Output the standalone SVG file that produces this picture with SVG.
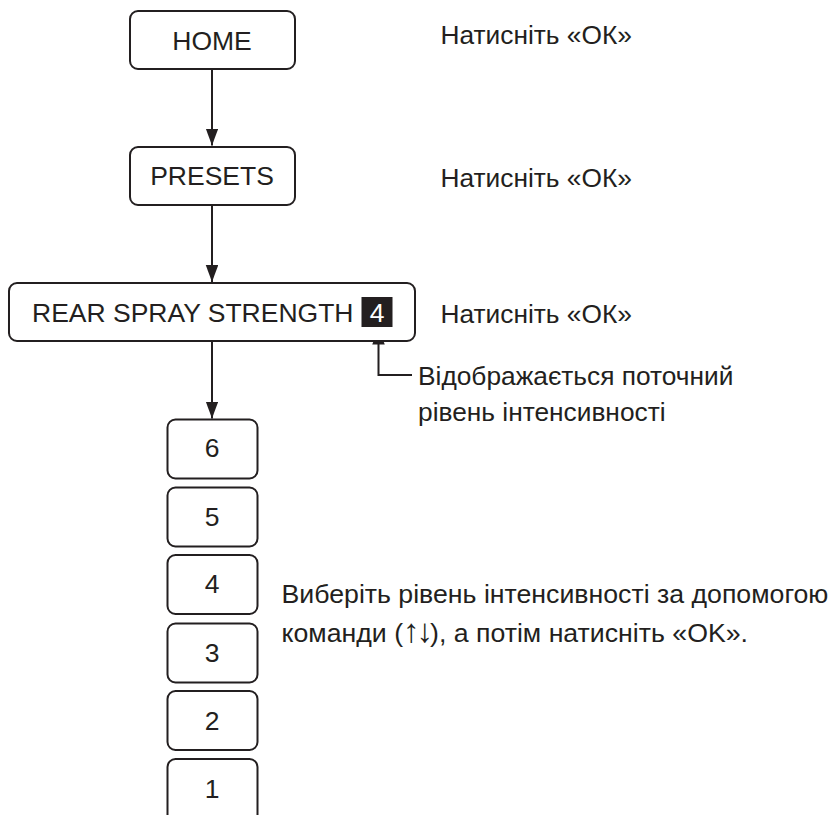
<svg xmlns="http://www.w3.org/2000/svg" width="829" height="815" viewBox="0 0 829 815">
<defs>
<style>
.box{fill:#fff;stroke:#231f20;stroke-width:2}
.t{font-family:"Liberation Sans",Arial,sans-serif;font-size:26.5px;fill:#231f20}
.c{text-anchor:middle}
.n{font-family:"Liberation Sans",Arial,sans-serif;font-size:26.3px;fill:#231f20}
.w{font-size:26.7px}
.ar{font-family:"Liberation Sans";font-variant-emoji:text;font-size:33px;letter-spacing:-3px;fill:#231f20}
.line{fill:none;stroke:#231f20;stroke-width:2}
</style>
<marker id="ah" markerUnits="userSpaceOnUse" markerWidth="18" markerHeight="13" refX="17" refY="6.25" orient="auto">
<path d="M0,0 L17,6.25 L0,12.5 Z" fill="#231f20"/>
</marker>
</defs>
<rect width="829" height="815" fill="#fff"/>
<g id="connectors">
<line class="line" x1="212" y1="70" x2="212" y2="145.5" marker-end="url(#ah)"/>
<line class="line" x1="212" y1="206" x2="212" y2="282" marker-end="url(#ah)"/>
<line class="line" x1="212" y1="342" x2="212" y2="418.5" marker-end="url(#ah)"/>
<polyline class="line" points="412,375 378.5,375 378.5,327.5" marker-end="url(#ah)"/>
</g>
<g id="home">
<rect class="box" x="130" y="11" width="165" height="58" rx="8"/>
<text class="t c" x="212" y="50">HOME</text>
</g>
<g id="presets">
<rect class="box" x="130" y="147" width="165" height="58" rx="8"/>
<text class="t c" x="212" y="185">PRESETS</text>
</g>
<g id="rear">
<rect class="box" x="9" y="283" width="406" height="58" rx="8"/>
<text class="t" x="32" y="321.5">REAR SPRAY STRENGTH</text>
<rect x="361.5" y="297" width="31" height="30" fill="#231f20"/>
<text class="t c" x="377" y="321.5" style="fill:#fff">4</text>
</g>
<g id="level6"><rect class="box" x="167.5" y="419.5" width="90" height="59" rx="8"/><text class="t c" x="212" y="457">6</text></g>
<g id="level5"><rect class="box" x="167.5" y="487.5" width="90" height="59" rx="8"/><text class="t c" x="212" y="526">5</text></g>
<g id="level4"><rect class="box" x="167.5" y="555" width="90" height="59" rx="8"/><text class="t c" x="212" y="593">4</text></g>
<g id="level3"><rect class="box" x="167.5" y="623.5" width="90" height="59" rx="8"/><text class="t c" x="212" y="662">3</text></g>
<g id="level2"><rect class="box" x="167.5" y="691" width="90" height="59" rx="8"/><text class="t c" x="212" y="730">2</text></g>
<g id="level1"><rect class="box" x="167.5" y="759" width="90" height="70" rx="8"/><text class="t c" x="212" y="798">1</text></g>
<g id="labels">
<text class="n" x="440.5" y="44">Натисніть «ОК»</text>
<text class="n" x="440.5" y="187">Натисніть «ОК»</text>
<text class="n" x="440.5" y="323">Натисніть «ОК»</text>
<text class="n" x="418" y="385">Відображається поточний</text>
<text class="n" x="418" y="421">рівень інтенсивності</text>
<text class="n w" x="281.5" y="603">Виберіть рівень інтенсивності за допомогою</text>
<text class="n w" x="281.5" y="642">команди (<tspan class="ar">↑↓</tspan>), а потім натисніть «OK».</text>
</g>
</svg>
